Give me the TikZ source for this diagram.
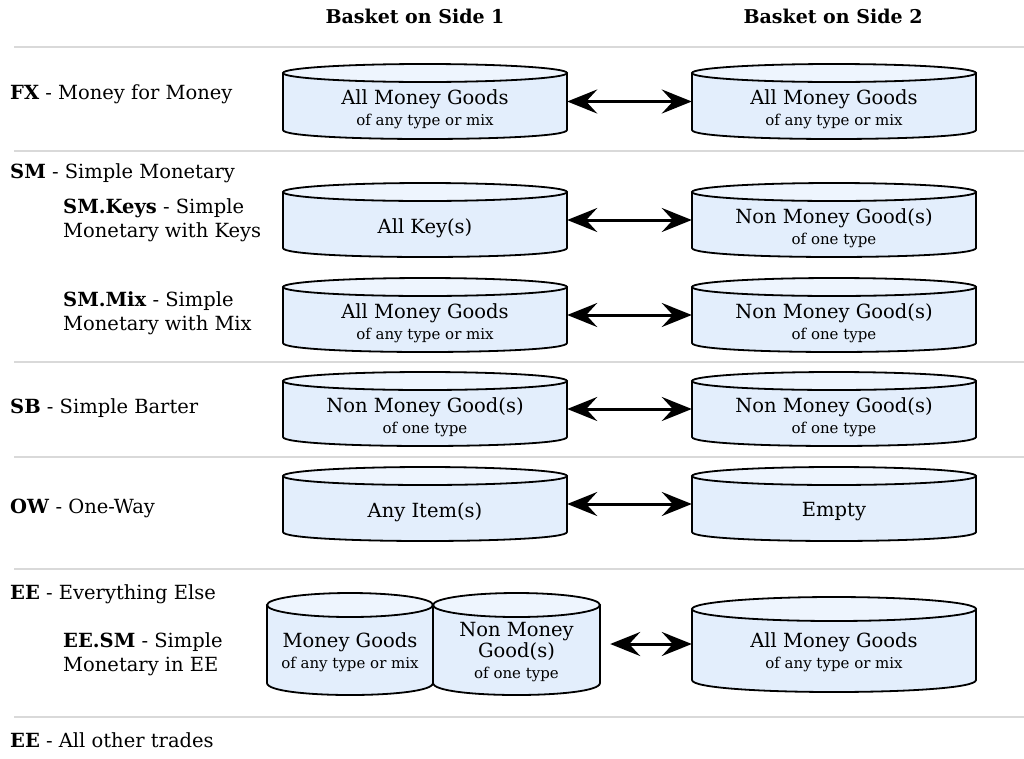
\documentclass[tikz,border=0pt]{standalone}
\usepackage{fontspec}
\setmainfont{DejaVu Serif}
\usetikzlibrary{arrows.meta}
\definecolor{cylbody}{HTML}{E3EEFC}
\definecolor{cyltopc}{HTML}{EEF5FE}
\definecolor{sepgray}{HTML}{D9D9D9}
\tikzset{
  cylbodyst/.style={fill=cylbody, draw=black, line width=1.8pt, line join=round},
  cyltopst/.style={fill=cyltopc, draw=black, line width=1.8pt},
  cyltext/.style={align=center, inner sep=0pt, font=\fontsize{19.5}{21}\selectfont},
  lbl/.style={anchor=base west, inner sep=0pt, font=\fontsize{19.5}{24}\selectfont, align=left},
  hdr/.style={anchor=base, inner sep=0pt, font=\fontsize{19}{20}\selectfont\bfseries},
  sep/.style={draw=sepgray, line width=1.3pt},
  trade/.style={line width=3pt, arrows={Stealth[length=30pt,width=24pt,inset=11pt]-Stealth[length=30pt,width=24pt,inset=11pt]}}
}
\newcommand{\sm}[1]{{\fontsize{15}{18}\selectfont #1}}
% #1 name #2 x1 #3 x2 #4 yt #5 yb #6 ry #7 text
\newcommand{\basket}[7]{%
  \pgfmathsetmacro{\bcx}{(#2+#3)/2}%
  \pgfmathsetmacro{\brx}{(#3-#2)/2}%
  \pgfmathsetmacro{\bkk}{#5+4/3*#6}%
  \pgfmathsetmacro{\bmid}{(#4+#5)/2}%
  \pgfmathsetmacro{\bh}{#5-#4}%
  \pgfmathsetmacro{\bty}{(#4+#5)/2+8}%
  \path[cylbodyst] (#2,#4) -- (#2,#5) .. controls (#2,\bkk) and (#3,\bkk) .. (#3,#5) -- (#3,#4) -- cycle;
  \path[cyltopst] (\bcx,#4) ellipse [x radius=\brx pt, y radius=#6 pt];
  \node[inner sep=0pt, minimum width=2*\brx pt, minimum height=\bh pt] (#1) at (\bcx,\bmid) {};
  \node[cyltext] (#1-t) at (\bcx,\bty) {#7};
}
\begin{document}
\begin{tikzpicture}[x=1pt,y=-1pt]
\useasboundingbox (0,0) rectangle (1024,758);
% headers
\node[hdr] (h1) at (415,23) {Basket on Side 1};
\node[hdr] (h2) at (833,23) {Basket on Side 2};
% separators
\coordinate (s1a) at (14,47);  \coordinate (s1b) at (1024,47);
\coordinate (s2a) at (14,151); \coordinate (s2b) at (1024,151);
\coordinate (s3a) at (14,362); \coordinate (s3b) at (1024,362);
\coordinate (s4a) at (14,457); \coordinate (s4b) at (1024,457);
\coordinate (s5a) at (14,569); \coordinate (s5b) at (1024,569);
\coordinate (s6a) at (14,717); \coordinate (s6b) at (1024,717);
\draw[sep] (s1a) -- (s1b);
\draw[sep] (s2a) -- (s2b);
\draw[sep] (s3a) -- (s3b);
\draw[sep] (s4a) -- (s4b);
\draw[sep] (s5a) -- (s5b);
\draw[sep] (s6a) -- (s6b);
% left labels
\node[lbl] (lfx) at (10,99) {\textbf{FX} - Money for Money};
\node[lbl] (lsm) at (10,178) {\textbf{SM} - Simple Monetary};
\node[lbl] (lsmk) at (63,237) {\textbf{SM.Keys} - Simple\\Monetary with Keys};
\node[lbl] (lsmm) at (63,330) {\textbf{SM.Mix} - Simple\\Monetary with Mix};
\node[lbl] (lsb) at (10,413) {\textbf{SB} - Simple Barter};
\node[lbl] (low) at (10,513) {\textbf{OW} - One-Way};
\node[lbl] (lee) at (10,599) {\textbf{EE} - Everything Else};
\node[lbl] (lees) at (63,671) {\textbf{EE.SM} - Simple\\Monetary in EE};
\node[lbl] (leea) at (10,747) {\textbf{EE} - All other trades};
% baskets
\basket{fx1}{283}{567}{73}{130}{9}{All Money Goods\\\sm{of any type or mix}}
\basket{fx2}{692}{976}{73}{130}{9}{All Money Goods\\\sm{of any type or mix}}
\basket{k1}{283}{567}{192}{248}{9}{All Key(s)}
\basket{k2}{692}{976}{192}{248}{9}{Non Money Good(s)\\\sm{of one type}}
\basket{m1}{283}{567}{287}{343}{9}{All Money Goods\\\sm{of any type or mix}}
\basket{m2}{692}{976}{287}{343}{9}{Non Money Good(s)\\\sm{of one type}}
\basket{b1}{283}{567}{381}{437}{9}{Non Money Good(s)\\\sm{of one type}}
\basket{b2}{692}{976}{381}{437}{9}{Non Money Good(s)\\\sm{of one type}}
\basket{o1}{283}{567}{476}{532}{9}{Any Item(s)}
\basket{o2}{692}{976}{476}{532}{9}{Empty}
\basket{e1}{267}{433}{605}{683}{12}{Money Goods\\\sm{of any type or mix}}
\basket{e2}{433}{600}{605}{683}{12}{Non Money\\Good(s)\\\sm{of one type}}
\basket{e3}{692}{976}{609}{680}{12}{All Money Goods\\\sm{of any type or mix}}
% arrows
\draw[trade] (fx1) -- (fx2);
\draw[trade] (k1) -- (k2);
\draw[trade] (m1) -- (m2);
\draw[trade] (b1) -- (b2);
\draw[trade] (o1) -- (o2);
\draw[trade, shorten <=10pt] (e2.east) -- (e3.west |- e2.east);
\end{tikzpicture}
\end{document}
